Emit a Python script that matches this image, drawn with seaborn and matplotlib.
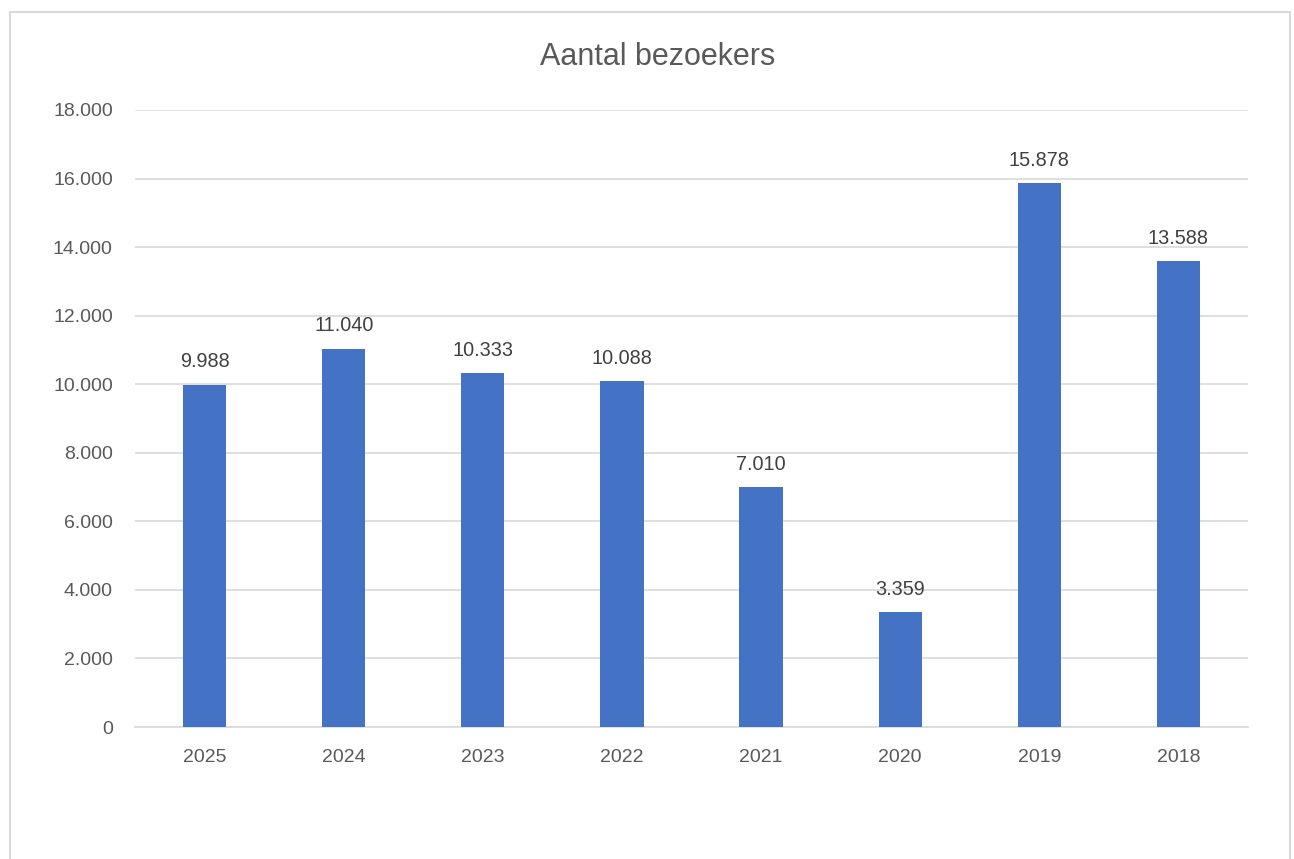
import matplotlib
matplotlib.use("Agg")
import matplotlib.pyplot as plt
import seaborn as sns
import pandas as pd
from matplotlib.patches import Rectangle

years = ["2025", "2024", "2023", "2022", "2021", "2020", "2019", "2018"]
visitors = [9988, 11040, 10333, 10088, 7010, 3359, 15878, 13588]
y_ticks = [0, 2000, 4000, 6000, 8000, 10000, 12000, 14000, 16000, 18000]
title = "Aantal bezoekers"

def nl(v):
    return f"{v:,}".replace(",", ".")

sns.set_theme(style="white")
plt.rcParams['font.family'] = ['Liberation Sans', 'DejaVu Sans']

df = pd.DataFrame({"year": years, "visitors": visitors})

W, H = 1294, 859
fig = plt.figure(figsize=(W / 100, H / 100), dpi=100)
fig.patch.set_facecolor("white")
fig.patches.append(Rectangle((10 / W, -0.01), 1280 / W, (H - 12) / H + 0.01,
                             transform=fig.transFigure, fill=False,
                             edgecolor="#D9D9D9", linewidth=1.5, zorder=0))

ax = fig.add_axes([135 / W, (H - 727) / H, (1248 - 135) / W, (727 - 110) / H])
sns.barplot(data=df, x="year", y="visitors", order=years, color="#4472C4",
            saturation=1, width=0.31, ax=ax, zorder=3, linewidth=0)

ax.set_ylim(0, 18000)
ax.set_xlim(-0.5, len(years) - 0.5)
ax.set_yticks(y_ticks)
ax.set_yticklabels([nl(t) for t in y_ticks])
ax.yaxis.grid(True, color="#D9D9D9", linewidth=1.2, zorder=0)
ax.set_axisbelow(True)
for s in ["top", "right", "left"]:
    ax.spines[s].set_visible(False)
ax.spines["bottom"].set_color("#D9D9D9")
ax.spines["bottom"].set_linewidth(1.2)
ax.tick_params(axis="both", length=0, labelsize=14, colors="#595959")
ax.tick_params(axis="y", pad=16)
ax.tick_params(axis="x", pad=15.5)
ax.set_xlabel("")
ax.set_ylabel("")

for cont in ax.containers:
    ax.bar_label(cont, labels=[nl(v) for v in visitors], padding=9.5,
                 fontsize=14.3, color="#404040")

fig.text(658 / W, 1 - 57 / H, title, ha="center", va="center",
         fontsize=22, color="#595959")

fig.savefig("out.png", dpi=100)
